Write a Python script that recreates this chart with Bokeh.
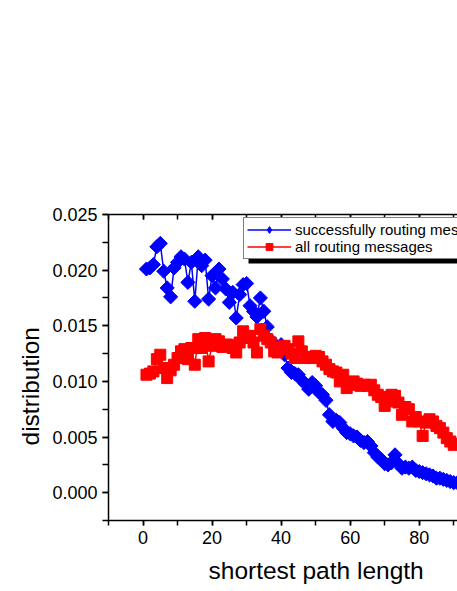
import numpy as np
from bokeh.plotting import figure
from bokeh.models import (LinearAxis, SingleIntervalTicker, NumeralTickFormatter,
                          Legend, LegendItem, BoxAnnotation, Range1d, ColumnDataSource, Title)
from bokeh.embed import file_html
from bokeh.resources import INLINE

path_length = list(range(1, 92))

successful = [
    0.0201, 0.0202, 0.0205, 0.0221, 0.0224, 0.0199, 0.0184, 0.0176, 0.0202, 0.0207,
    0.0212, 0.0210, 0.0189, 0.0207, 0.0172, 0.0212, 0.0204, 0.0209, 0.0174, 0.0195,
    0.0184, 0.0201, 0.0192, 0.0183, 0.0171, 0.0180, 0.0157, 0.0178, 0.0187, 0.0188,
    0.0168, 0.0163, 0.0158, 0.0175, 0.0163, 0.0149, 0.0137, 0.0131, 0.0128, 0.0133,
    0.0124, 0.0112, 0.0108, 0.0107, 0.0106, 0.0101, 0.0098, 0.0093, 0.0099, 0.0096,
    0.0090, 0.0088, 0.0083, 0.0070, 0.0064, 0.0065, 0.0063, 0.0058, 0.0054, 0.0053,
    0.0051, 0.0050, 0.0047, 0.0045, 0.0046, 0.0042, 0.0036, 0.0032, 0.0030, 0.0026,
    0.0025, 0.0027, 0.0034, 0.0026, 0.0022, 0.0023, 0.0022, 0.0023, 0.0020, 0.0019,
    0.0018, 0.0017, 0.0016, 0.0015, 0.0013, 0.0013, 0.0012, 0.0011, 0.0010, 0.0009,
    0.0009,
]

all_msgs = [
    0.0106, 0.0107, 0.0109, 0.0120, 0.0124, 0.0112, 0.0103, 0.0110, 0.0115, 0.0121,
    0.0127, 0.0129, 0.0120, 0.0130, 0.0115, 0.0138, 0.0130, 0.0139, 0.0118, 0.0132,
    0.0138, 0.0136, 0.0131, 0.0133, 0.0133, 0.0130, 0.0126, 0.0135, 0.0145, 0.0139,
    0.0141, 0.0135, 0.0126, 0.0147, 0.0141, 0.0138, 0.0135, 0.0127, 0.0126, 0.0130,
    0.0132, 0.0129, 0.0125, 0.0121, 0.0136, 0.0127, 0.0121, 0.0122, 0.0121, 0.0123,
    0.0122, 0.0118, 0.0115, 0.0111, 0.0109, 0.0108, 0.0100, 0.0106, 0.0094, 0.0097,
    0.0100, 0.0098, 0.0096, 0.0097, 0.0096, 0.0097, 0.0092, 0.0088, 0.0086, 0.0078,
    0.0082, 0.0088, 0.0087, 0.0081, 0.0070, 0.0077, 0.0075, 0.0064, 0.0068, 0.0064,
    0.0051, 0.0063, 0.0066, 0.0064, 0.0060, 0.0058, 0.0054, 0.0049, 0.0046, 0.0043,
    0.0044,
]

series_labels = ["successfully routing messages", "all routing messages"]
x_title = "shortest path length"
y_title = "distribution"
x_ticks_major = 20
y_ticks_major = 0.005
FONT = "Liberation Sans"

p = figure(frame_width=349, frame_height=306,
           x_range=Range1d(-10, 91.1), y_range=Range1d(-0.0025, 0.025),
           output_backend="svg", toolbar_location=None,
           x_axis_location=None, y_axis_location=None,
           min_border_left=108, min_border_top=214, min_border_right=0, min_border_bottom=0)
p.outline_line_color = None
p.xgrid.visible = False
p.ygrid.visible = False
p.background_fill_color = "white"
p.border_fill_color = "white"

def style_axis(ax):
    ax.axis_line_color = "black"
    ax.axis_line_width = 1.5
    ax.major_tick_line_color = "black"
    ax.minor_tick_line_color = "black"
    ax.major_tick_line_width = 1.5
    ax.minor_tick_line_width = 1.5
    ax.major_label_text_font = FONT
    ax.major_label_text_font_size = "18px"
    ax.major_label_text_color = "black"

xb = LinearAxis(ticker=SingleIntervalTicker(interval=x_ticks_major, num_minor_ticks=2))
style_axis(xb)
xb.major_tick_out = 5
xb.major_tick_in = 0
xb.minor_tick_out = 5
xb.minor_tick_in = 0
xb.major_label_standoff = 5
p.add_layout(xb, "below")

xt = LinearAxis(ticker=SingleIntervalTicker(interval=x_ticks_major, num_minor_ticks=2))
style_axis(xt)
xt.major_tick_out = 0
xt.major_tick_in = 5
xt.minor_tick_out = 0
xt.minor_tick_in = 5
xt.major_label_text_font_size = "0px"
xt.major_label_text_color = None
p.add_layout(xt, "above")

yl = LinearAxis(ticker=SingleIntervalTicker(interval=y_ticks_major, num_minor_ticks=2),
                formatter=NumeralTickFormatter(format="0.000"))
style_axis(yl)
yl.major_tick_out = 6
yl.major_tick_in = 0
yl.minor_tick_out = 6
yl.minor_tick_in = 0
yl.major_label_standoff = 5
p.add_layout(yl, "left")

# axis titles, offset like the original (its frame extended further right)
xt_title = Title(text=x_title, align="left", offset=100, standoff=16,
                 text_font=FONT, text_font_size="24.5px", text_font_style="normal",
                 text_color="black")
p.add_layout(xt_title, "below")
yt_title = Title(text=y_title, align="left", offset=75, standoff=11,
                 text_font=FONT, text_font_size="24.5px", text_font_style="normal",
                 text_color="black")
p.add_layout(yt_title, "left")

src = ColumnDataSource(dict(x=path_length, succ=successful, allm=all_msgs))

bl = p.line("x", "succ", source=src, line_color="#0000FF", line_width=1.5)
bm = p.scatter("x", "succ", source=src, marker="square", angle=np.pi / 4, size=10,
               fill_color="#0000FF", line_color="#0000FF")
rl = p.line("x", "allm", source=src, line_color="#FF0000", line_width=1.5)
rm = p.scatter("x", "allm", source=src, marker="square", size=11,
               fill_color="#FF0000", line_color="#FF0000")

# legend-only glyphs (no visible data)
empty = ColumnDataSource(dict(x=[np.nan], y=[np.nan]))
bleg = p.scatter("x", "y", source=empty, marker="diamond", size=13,
                 fill_color="#0000FF", line_color="#0000FF")
rleg = p.scatter("x", "y", source=empty, marker="square", size=8,
                 fill_color="#FF0000", line_color="#FF0000")

shadow = BoxAnnotation(left=140, right=500, bottom=257, top=262,
                       left_units="screen", right_units="screen",
                       bottom_units="screen", top_units="screen",
                       fill_color="black", fill_alpha=1.0, line_color=None)
p.add_layout(shadow)

legend = Legend(items=[LegendItem(label=series_labels[0], renderers=[bl, bleg]),
                       LegendItem(label=series_labels[1], renderers=[rl, rleg])],
                location=(135, 261))
legend.label_text_font = FONT
legend.label_text_font_size = "15px"
legend.label_text_color = "black"
legend.glyph_width = 44
legend.glyph_height = 17
legend.label_height = 17
legend.spacing = 0
legend.padding = 3
legend.margin = 0
legend.label_standoff = 4
legend.border_line_color = "black"
legend.border_line_width = 1
legend.background_fill_color = "white"
legend.background_fill_alpha = 1.0
p.add_layout(legend)

with open("out.html", "w") as f:
    f.write(file_html(p, INLINE))
